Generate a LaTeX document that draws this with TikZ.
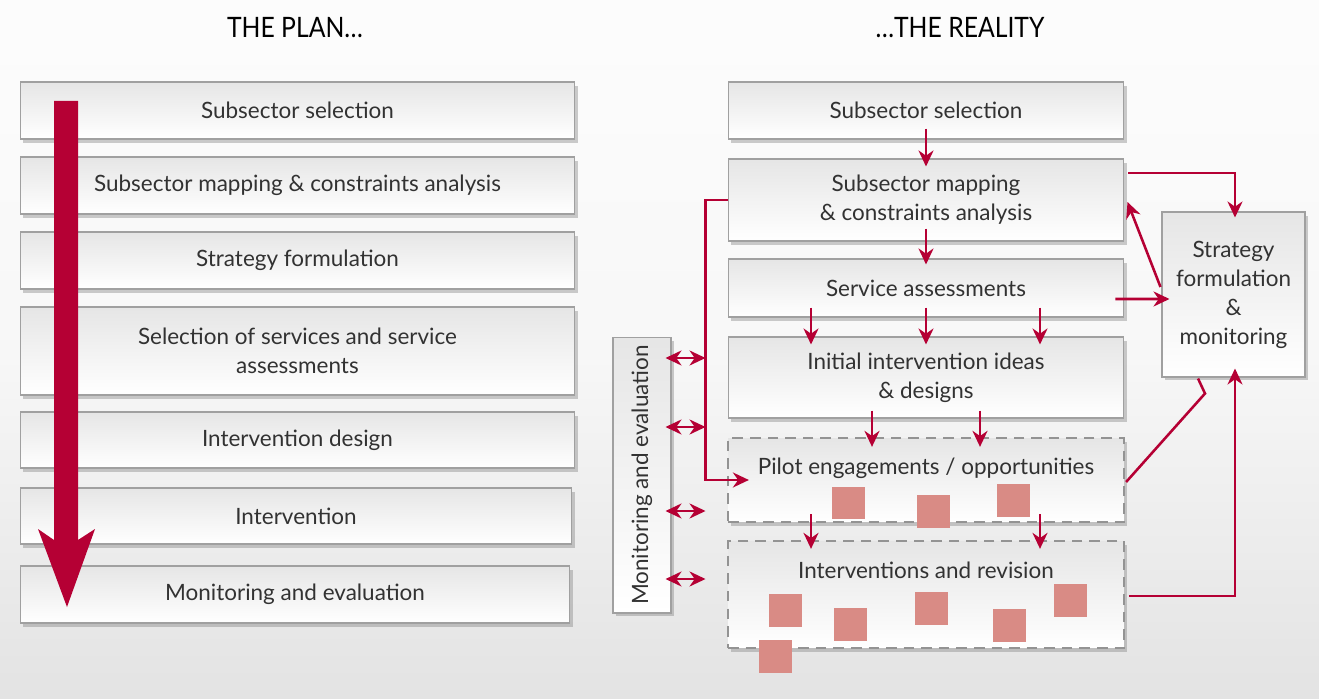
\documentclass[tikz,border=0pt]{standalone}
\usepackage{fontspec}
\setmainfont{Lato}
\usetikzlibrary{arrows.meta,shadows,calc}

\definecolor{crimson}{RGB}{181,0,52}
\definecolor{pinksq}{RGB}{217,139,133}
\definecolor{boxline}{RGB}{160,160,160}
\definecolor{textgray}{RGB}{50,50,50}

\tikzset{
    box/.style={draw=boxline, line width=0.6pt, top color=gray!20, bottom color=white,
        drop shadow={shadow xshift=1.5pt, shadow yshift=-2pt, opacity=0.4},
        inner sep=0pt, align=center, text=textgray,
        font=\fontsize{12.8}{16.5}\selectfont},
    dashbox/.style={box, draw=gray!85, line width=1.3pt, dash pattern=on 6pt off 4pt},
    lbl/.style={text=textgray, font=\fontsize{12.8}{16.5}\selectfont},
    ttl/.style={text=black, font=\fontsize{16}{18}\selectfont},
    redarr/.style={draw=crimson, line width=1.45pt, -{Stealth[length=3.2mm,width=3mm]}},
    redline/.style={draw=crimson, line width=1.45pt},
    dblarr/.style={draw=crimson, line width=1.45pt,
        {Stealth[length=3.2mm,width=3mm]}-{Stealth[length=3.2mm,width=3mm]}},
    sq/.style={fill=pinksq}
}

\begin{document}
\begin{tikzpicture}[x=0.02cm, y=-0.02cm]
    % Background
    \shade[top color=white!98!gray, bottom color=gray!22, middle color=gray!6] (0,0) rectangle (1319,699);
    \useasboundingbox (0,0) rectangle (1319,699);

    % Titles
    \node[ttl] (tplan) at (295,28) {\scalebox{0.88}[1]{THE PLAN\dots}};
    \node[ttl] (treal) at (960,28) {\scalebox{0.88}[1]{\dots THE REALITY}};

    % The plan
    \node[box, minimum width=11.1cm, minimum height=1.14cm] (pss) at (297.5,110.5) {Subsector selection};
    \node[box, minimum width=11.1cm, minimum height=1.14cm] (pmap) at (297.5,185.5) {Subsector mapping \& constraints analysis};
    \node[box, minimum width=11.1cm, minimum height=1.14cm] (pstr) at (297.5,260.5) {Strategy formulation};
    \node[box, minimum width=11.1cm, minimum height=1.76cm] (psel) at (297.5,351) {Selection of services and service\\assessments};
    \node[box, minimum width=11.1cm, minimum height=1.12cm] (pdes) at (297.5,440) {Intervention design};
    \node[box, minimum width=11.04cm, minimum height=1.12cm] (pint) at (296,516) {Intervention};
    \node[box, minimum width=11cm, minimum height=1.14cm] (pme) at (295,594.5) {Monitoring and evaluation};

    % Big arrow
    \fill[crimson] (54,101) -- (78,101) -- (78,540) -- (95,529) -- (67,607) -- (38,529) -- (54,540) -- cycle;

    % The reality
    \node[box, minimum width=7.92cm, minimum height=1.14cm] (rss) at (926,110.5) {Subsector selection};
    \node[box, minimum width=7.92cm, minimum height=1.64cm] (rmap) at (926,200) {Subsector mapping\\\& constraints analysis};
    \node[box, minimum width=7.92cm, minimum height=1.16cm] (rsa) at (926,288) {Service assessments};
    \node[box, minimum width=7.92cm, minimum height=1.62cm] (rini) at (926,377.5) {Initial intervention ideas\\\& designs};
    \node[dashbox, minimum width=7.92cm, minimum height=1.68cm] (rpil) at (926,480) {};
    \node[dashbox, minimum width=7.92cm, minimum height=2.14cm] (rint) at (926,594.5) {};
    \node[lbl] (rpiltxt) at ($(rpil.center)+(0,-12)$) {Pilot engagements / opportunities};
    \node[lbl] (rinttxt) at ($(rint.center)+(0,-24.5)$) {Interventions and revision};
    \node[box, minimum width=2.86cm, minimum height=3.3cm] (rstr) at (1233.5,294.5) {Strategy\\formulation\\\&\\monitoring};
    \node[box, minimum width=1.16cm, minimum height=5.52cm] (rme) at (642,475) {\rotatebox{90}{Monitoring and evaluation}};

    % Small squares
    \fill[sq] (832,487) rectangle ++(33,32);
    \fill[sq] (917,495) rectangle ++(33,33);
    \fill[sq] (997,484) rectangle ++(33,33);
    \fill[sq] (769,594) rectangle ++(33,33);
    \fill[sq] (759,640) rectangle ++(33,33);
    \fill[sq] (834,608) rectangle ++(33,33);
    \fill[sq] (915,592) rectangle ++(33,33);
    \fill[sq] (993,609) rectangle ++(33,33);
    \fill[sq] (1054,584) rectangle ++(33,33);

    % Downward arrows
    \draw[redarr] ($(rss.south)+(0,-11)$) -- ($(rmap.north)+(0,8)$);
    \draw[redarr] ($(rmap.south)+(0,-13)$) -- ($(rsa.north)+(0,6)$);
    \foreach \dx in {-115,0,114}
        \draw[redarr] ($(rsa.south)+(\dx,-10)$) -- ($(rini.north)+(\dx,8)$);
    \foreach \dx in {-54,54}
        \draw[redarr] ($(rini.south)+(\dx,-8)$) -- ($(rpil.north)+(\dx,10)$);
    \foreach \dx in {-115,114}
        \draw[redarr] ($(rpil.south)+(\dx,-9)$) -- ($(rint.north)+(\dx,9)$);

    % Loop on the left
    \draw[redarr] (rmap.west) -- ++(-22,0) |- ($(rpil.west)+(22,0)$);

    % Monitoring links
    \foreach \dy in {-117,-48,36,104}
        \draw[dblarr] ($(rme.east)+(-6,\dy)$) -- ++(40,0);

    % Strategy links
    \draw[redarr] ($(rmap.east)+(4,-27)$) -| ($(rstr.north)+(1.5,6)$);
    \draw[redarr] ($(rstr.west)+(-1,-7.5)$) -- ($(rmap.east)+(3,2)$);
    \draw[redarr] ($(rsa.east)+(-9,11)$) -- ($(rstr.west)+(8,4.5)$);
    \draw[redline] ($(rpil.east)+(1,2)$) -- ($(rstr.south)+(-28.5,16)$) -- ($(rstr.south)+(-35.5,1)$);
    \draw[redarr] ($(rint.east)+(4,1.5)$) -| ($(rstr.south)+(1.5,-9)$);
\end{tikzpicture}
\end{document}
